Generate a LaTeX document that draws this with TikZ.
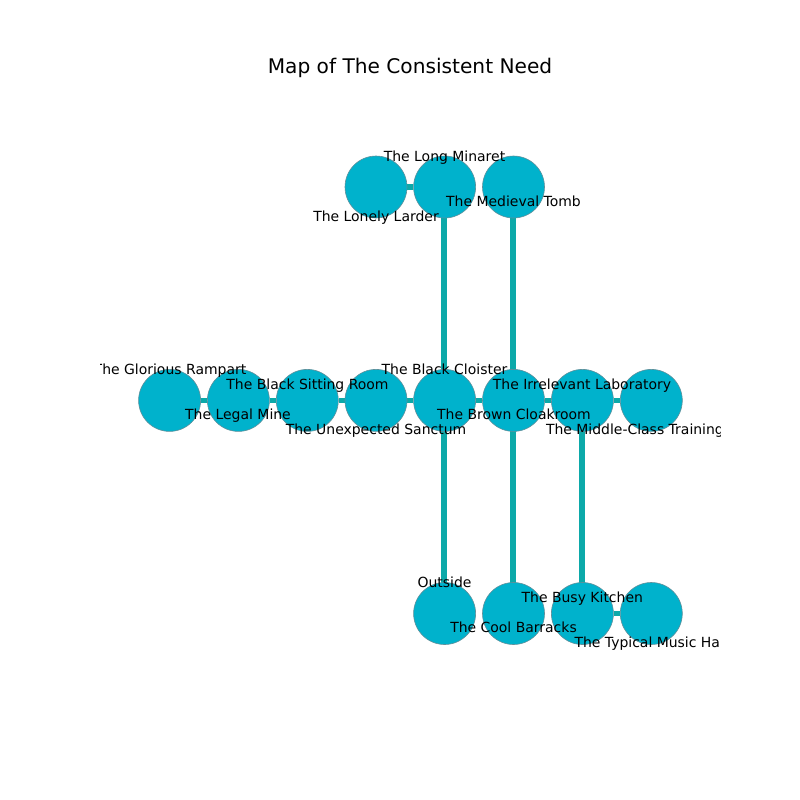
\documentclass[tikz,border=0pt]{standalone}
\usepackage{fontspec}
\setmainfont{DejaVu Sans}
\usetikzlibrary{backgrounds}
\definecolor{roomfill}{HTML}{00B2CC}
\definecolor{roomline}{HTML}{5F8F9A}
\definecolor{passage}{HTML}{0CA9A9}
\tikzset{
  x=1pt,y=-1pt,
  room/.style={circle,fill=roomfill,draw=roomline,line width=0.6pt,minimum size=62pt,inner sep=0pt},
  hedge/.style={draw=passage,line width=5.2pt},
  vedge/.style={draw=passage,line width=6pt},
  lab/.style={inner sep=0pt,outer sep=0pt,anchor=base,font=\fontsize{13.96}{16}\selectfont,text=black},
  labw/.style={lab,anchor=base west},
  ttl/.style={inner sep=0pt,anchor=base,font=\fontsize{20.15}{24}\selectfont,text=black}
}
\begin{document}
\begin{tikzpicture}
\useasboundingbox (0,0) rectangle (800,800);
% rooms
\node[room] (larder) at (376,187) {};
\node[room] (minaret) at (444.6,187) {};
\node[room] (tomb) at (513.5,187) {};
\node[room] (rampart) at (169.6,400.4) {};
\node[room] (mine) at (238.4,400.4) {};
\node[room] (sitting) at (307.3,400.4) {};
\node[room] (sanctum) at (376,400.4) {};
\node[room] (cloister) at (444.6,400.4) {};
\node[room] (cloak) at (513.5,400.4) {};
\node[room] (lab) at (582.4,400.4) {};
\node[room] (training) at (651.3,400.4) {};
\node[room] (outside) at (444.6,613.5) {};
\node[room] (barracks) at (513.5,613.5) {};
\node[room] (kitchen) at (582.4,613.5) {};
\node[room] (music) at (651.3,613.5) {};
\begin{scope}[on background layer]
\draw[hedge] (larder) -- (minaret);
\draw[hedge] (rampart) -- (mine);
\draw[hedge] (mine) -- (sitting);
\draw[hedge] (sitting) -- (sanctum);
\draw[hedge] (sanctum) -- (cloister);
\draw[hedge] (cloister) -- (cloak);
\draw[hedge] (cloak) -- (lab);
\draw[hedge] (lab) -- (training);
\draw[hedge] (kitchen) -- (music);
\draw[vedge] ([xshift=-0.6pt]minaret.center) -- ([xshift=-0.6pt]cloister.center);
\draw[vedge] ([xshift=-0.5pt]tomb.center) -- ([xshift=-0.5pt]cloak.center);
\draw[vedge] ([xshift=-0.6pt]cloister.center) -- ([xshift=-0.6pt]outside.center);
\draw[vedge] ([xshift=-0.5pt]cloak.center) -- ([xshift=-0.5pt]barracks.center);
\draw[vedge] ([xshift=-0.4pt]lab.center) -- ([xshift=-0.4pt]kitchen.center);
\end{scope}
\node[ttl] (title) at (410,74) {Map of The Consistent Need};
\begin{scope}
\clip (100,96) rectangle (720,704);
\node[lab] (t1) at (444.5,161) {The Long Minaret};
\node[lab] (t2) at (376,221) {The Lonely Larder};
\node[lab] (t3) at (513.5,206) {The Medieval Tomb};
\node[lab] (t4) at (170,374) {The Glorious Rampart};
\node[lab] (t5) at (238,419) {The Legal Mine};
\node[lab] (t6) at (307.5,389.5) {The Black Sitting Room};
\node[lab] (t7) at (376,434) {The Unexpected Sanctum};
\node[lab] (t8) at (444.5,374) {The Black Cloister};
\node[lab] (t9) at (514,419) {The Brown Cloakroom};
\node[lab] (t10) at (582,389.5) {The Irrelevant Laboratory};
\node[labw] (t11) at (546,434) {The Middle-Class Training};
\node[lab] (t12) at (444.5,587) {Outside};
\node[lab] (t13) at (513.5,632) {The Cool Barracks};
\node[lab] (t14) at (582.3,602) {The Busy Kitchen};
\node[labw] (t15) at (574.5,647) {The Typical Music Ha};
\end{scope}
\end{tikzpicture}
\end{document}
